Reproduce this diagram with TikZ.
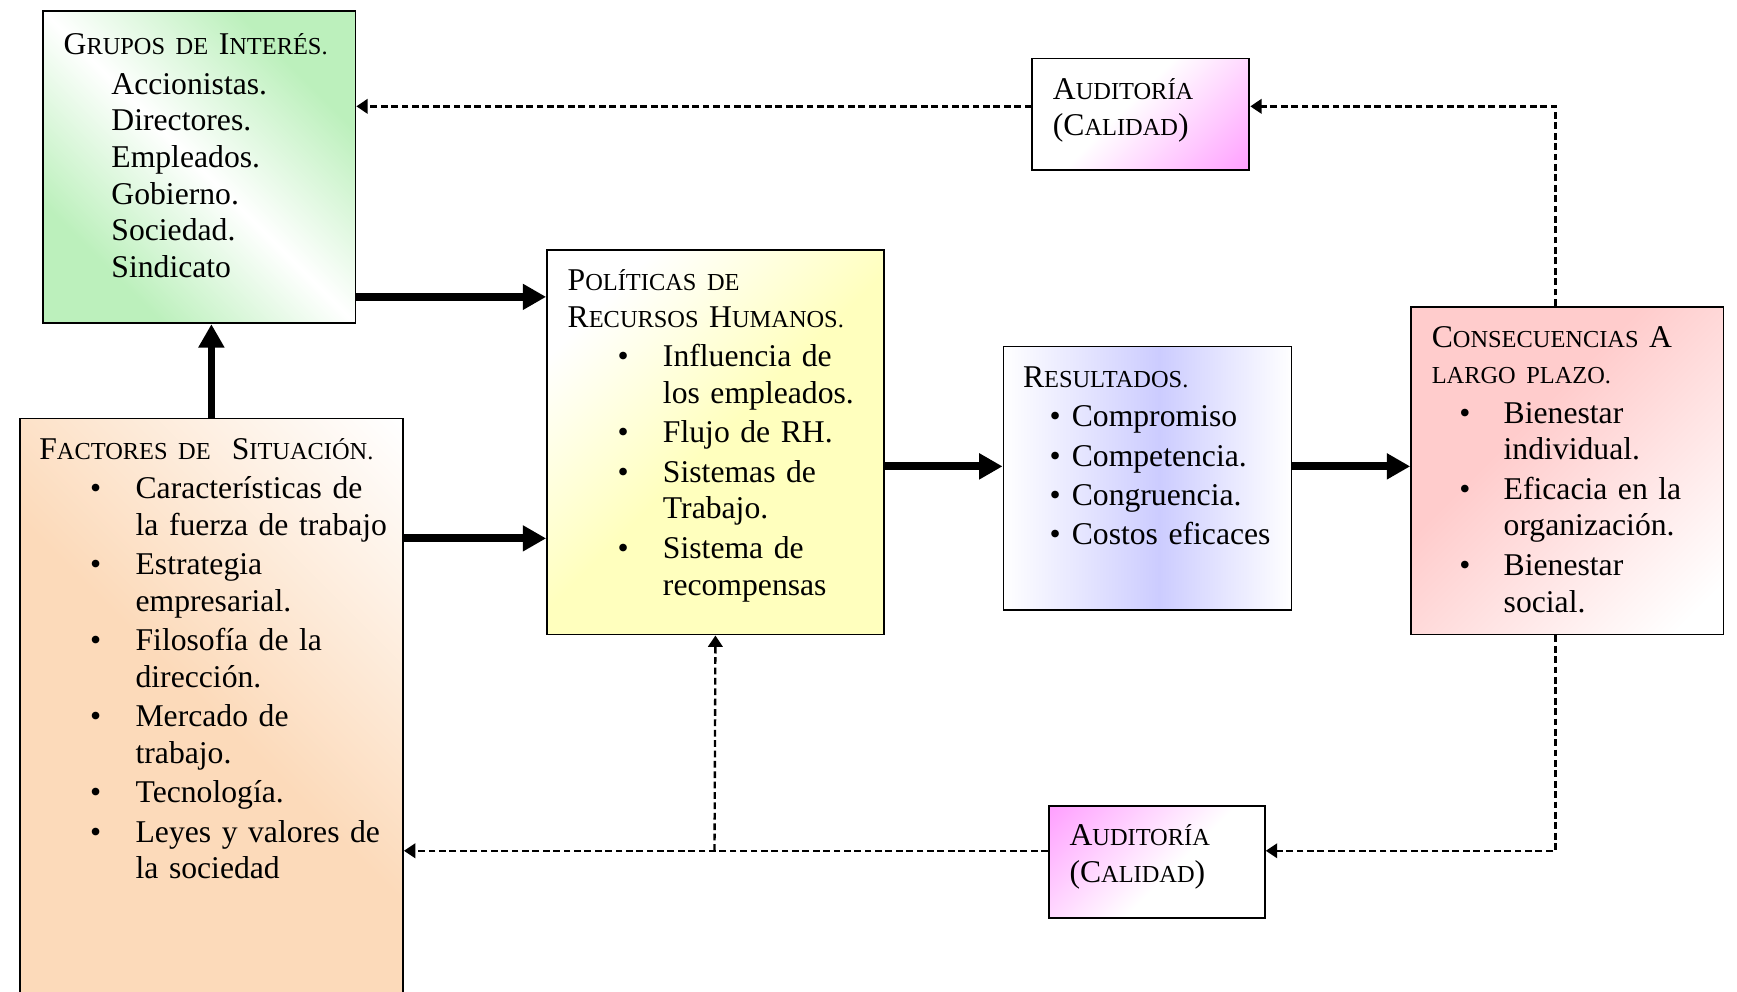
\documentclass[tikz,border=0pt]{standalone}
\usepackage{fontspec}
\setmainfont{Liberation Serif}
\usetikzlibrary{arrows.meta,positioning,calc,shadings}

\definecolor{verde}{RGB}{188,240,188}
\definecolor{durazno}{RGB}{252,218,186}
\definecolor{amarillo}{RGB}{255,255,190}
\definecolor{lila}{RGB}{204,204,255}
\definecolor{rosa}{RGB}{255,204,204}
\definecolor{orquidea}{RGB}{255,160,255}

\pgfdeclarehorizontalshading{bandaverde}{100bp}{color(0bp)=(verde); color(28bp)=(verde); color(50bp)=(white); color(72bp)=(verde); color(100bp)=(verde)}
\pgfdeclarehorizontalshading{duraznoblanco}{100bp}{color(0bp)=(durazno); color(50bp)=(durazno); color(85bp)=(white); color(100bp)=(white)}
\pgfdeclarehorizontalshading{blancoamarillo}{100bp}{color(0bp)=(white); color(25bp)=(white); color(50bp)=(amarillo); color(100bp)=(amarillo)}
\pgfdeclarehorizontalshading{bandalila}{100bp}{color(0bp)=(white); color(25bp)=(white); color(52bp)=(lila); color(75bp)=(white); color(100bp)=(white)}
\pgfdeclarehorizontalshading{rosablanco}{100bp}{color(0bp)=(rosa); color(40bp)=(rosa); color(80bp)=(white); color(100bp)=(white)}
\pgfdeclarehorizontalshading{blancoorquidea}{100bp}{color(0bp)=(white); color(45bp)=(white); color(85bp)=(orquidea); color(100bp)=(orquidea)}
\pgfdeclarehorizontalshading{orquideablanco}{100bp}{color(0bp)=(orquidea); color(15bp)=(orquidea); color(55bp)=(white); color(100bp)=(white)}

% versalitas falsas, como en el original
\newcommand{\pc}[1]{{\fontsize{9.4}{14.1}\selectfont #1}}
\newenvironment{puntos}[2]{%
  \begin{list}{\textbullet}{\setlength{\leftmargin}{#1}\setlength{\labelwidth}{20pt}%
    \setlength{\labelsep}{#2}\setlength{\itemsep}{1.1pt}\setlength{\parsep}{0pt}%
    \setlength{\topsep}{1.1pt}\setlength{\partopsep}{0pt}\setlength{\itemindent}{0pt}}}%
  {\end{list}}

\begin{document}
\begin{tikzpicture}[x=0.015cm, y=-0.015cm,
        caja/.style={rectangle, draw=black, line width=0.7pt, inner sep=0pt, anchor=north west, shade},
        texto/.style={inner sep=0pt, anchor=base west, text width=6cm, align=left, font=\fontsize{12.2}{14.1}\selectfont},
        grueso/.style={line width=3pt, -{Triangle[length=9pt, width=9.5pt]}},
        discont/.style={line width=0.9pt, dash pattern=on 2.6pt off 1.4pt, -{Triangle[length=4.4pt, width=5.6pt]}}
    ]
    \useasboundingbox (0,0) rectangle (1568,895);

    \node[caja, shading=bandaverde, shading angle=45, minimum width=4.23cm, minimum height=4.23cm] (grupos) at (38,9) {};
    \node[caja, shading=duraznoblanco, shading angle=45, minimum width=5.19cm, minimum height=7.92cm] (factores) at (17,377) {};
    \node[caja, shading=blancoamarillo, shading angle=-45, minimum width=4.56cm, minimum height=5.205cm] (politicas) at (493,225) {};
    \node[caja, shading=bandalila, minimum width=3.9cm, minimum height=3.57cm] (resultados) at (905,312) {};
    \node[caja, shading=rosablanco, shading angle=-45, minimum width=4.23cm, minimum height=4.44cm] (consecuencias) at (1273,276) {};
    \node[caja, shading=blancoorquidea, shading angle=-45, minimum width=2.94cm, minimum height=1.515cm] (auditA) at (931,52) {};
    \node[caja, shading=orquideablanco, shading angle=-45, minimum width=2.925cm, minimum height=1.515cm] (auditB) at (946,727) {};

    \node[texto] (grupos-t) at (57,49.5) {G\pc{RUPOS DE }I\pc{NTERÉS.}
      \begin{puntos}{18.4pt}{0pt}
      \item[] Accionistas.\\Directores.\\Empleados.\\Gobierno.\\Sociedad.\\Sindicato
      \end{puntos}};
    \node[texto] (factores-t) at (35,414.5) {F\pc{ACTORES DE}\ \ S\pc{ITUACIÓN.}
      \begin{puntos}{37.1pt}{13.2pt}
      \item Características de\\la fuerza de trabajo
      \item Estrategia\\empresarial.
      \item Filosofía de la\\dirección.
      \item Mercado de\\trabajo.
      \item Tecnología.
      \item Leyes y valores de\\la sociedad
      \end{puntos}};
    \node[texto] (politicas-t) at (512,262.5) {P\pc{OLÍTICAS DE}\\R\pc{ECURSOS }H\pc{UMANOS.}
      \begin{puntos}{36.7pt}{13.2pt}
      \item Influencia de\\los empleados.
      \item Flujo de RH.
      \item Sistemas de\\Trabajo.
      \item Sistema de\\recompensas
      \end{puntos}};
    \node[texto] (resultados-t) at (923,349.5) {R\pc{ESULTADOS.}
      \begin{puntos}{18.8pt}{4.3pt}
      \item Compromiso
      \item Competencia.
      \item Congruencia.
      \item Costos eficaces
      \end{puntos}};
    \node[texto] (consecuencias-t) at (1292,313.5) {C\pc{ONSECUENCIAS }A\\\pc{LARGO PLAZO.}
      \begin{puntos}{27.7pt}{12.8pt}
      \item Bienestar\\individual.
      \item Eficacia en la\\organización.
      \item Bienestar\\social.
      \end{puntos}};
    \node[texto] (auditA-t) at (950,89.5) {A\pc{UDITORÍA}\\(C\pc{ALIDAD})};
    \node[texto] (auditB-t) at (965,763.5) {A\pc{UDITORÍA}\\(C\pc{ALIDAD})};

    \draw[grueso] (grupos.east |- 0,268) -- (politicas.west |- 0,268);
    \draw[grueso] (factores.east |- 0,486) -- (politicas.west |- 0,486);
    \draw[grueso] (factores.north) -- (factores.north |- grupos.south);
    \draw[grueso] (politicas.east |- 0,421) -- (resultados.west |- 0,421);
    \draw[grueso] (resultados.east |- 0,421) -- (consecuencias.west |- 0,421);

    \draw[discont] (consecuencias.north -| 1404,0) |- (auditA.east |- 0,96);
    \draw[discont] (auditA.west |- 0,96) -- (grupos.east |- 0,96);
    \draw[discont] (consecuencias.south -| 1404,0) |- (auditB.east |- 0,768);
    \draw[discont] (auditB.west |- 0,768) -- (factores.east |- 0,768);
    \coordinate (ramal) at (645,768);
    \draw[discont] (ramal) -- (politicas.south);

\end{tikzpicture}
\end{document}
